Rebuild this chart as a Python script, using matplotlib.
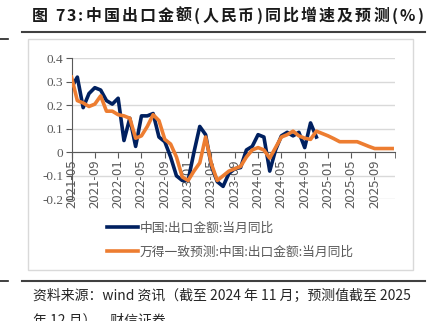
import numpy as np
import pandas as pd
import matplotlib
matplotlib.use('Agg')
import matplotlib.pyplot as plt
from matplotlib.patches import Rectangle
from matplotlib.lines import Line2D

plt.rcParams['font.family'] = ['Noto Sans CJK SC', 'DejaVu Sans']

# 月份 2021-05 ~ 2025-12
months = list(pd.date_range('2021-05-01', '2025-12-01', freq='MS').strftime('%Y-%m'))

# 实际值：2021-05 ~ 2024-11
actual = [0.275, 0.32, 0.19, 0.25, 0.275, 0.265, 0.22, 0.205,
          0.23, 0.05, 0.145, 0.025, 0.155, 0.155, 0.165, 0.065, 0.045, -0.02, -0.10, -0.12,
          -0.12, 0.0, 0.11, 0.075, -0.06, -0.125, -0.145, -0.09, -0.07, -0.065, 0.01, 0.025,
          0.075, 0.065, -0.08, 0.01, 0.07, 0.085, 0.07, 0.085, 0.02, 0.125, 0.065]

# 万得一致预测：2021-05 ~ 2025-12
forecast = [0.32, 0.22, 0.21, 0.195, 0.205, 0.24, 0.175, 0.175,
            0.16, 0.155, 0.145, 0.06, 0.07, 0.11, 0.16, 0.135, 0.055, 0.035, -0.02, -0.105,
            -0.12, -0.08, -0.045, 0.065, -0.05, -0.12, -0.10, -0.08, -0.07, -0.06, -0.02, 0.01,
            0.02, 0.01, -0.025, 0.02, 0.065, 0.075, 0.09, 0.07, 0.06, 0.055, 0.09, 0.08,
            0.07, 0.058, 0.045, 0.045, 0.045, 0.045, 0.035, 0.025, 0.016, 0.016, 0.016, 0.016]

yticks = [-0.2, -0.1, 0, 0.1, 0.2, 0.3, 0.4]
ytick_labels = ['-0.2', '-0.1', '0', '0.1', '0.2', '0.3', '0.4']

title = '图 73:中国出口金额(人民币)同比增速及预测(%)'
source1 = '资料来源：wind 资讯（截至 2024 年 11 月；预测值截至 2025'
source2 = '年 12 月），财信证券'

W, H = 434, 321
fig = plt.figure(figsize=(W / 100, H / 100), dpi=100)


def fx(px):
    return px / W


def fy(py):
    return 1 - py / H


# chart frame
fig.add_artist(Rectangle((fx(28), fy(270)), fx(413) - fx(28), fy(39) - fy(270),
                         transform=fig.transFigure, facecolor='white',
                         edgecolor='#D9D9D9', lw=1, zorder=0))

ax = fig.add_axes([fx(71.5), fy(199.3), fx(394.5) - fx(71.5), fy(58.3) - fy(199.3)])
ax.patch.set_alpha(0)
x = np.arange(len(months))
l1, = ax.plot(x[:len(actual)], actual, color='#002060', lw=2.6, zorder=3,
              solid_joinstyle='round')
l2, = ax.plot(x, forecast, color='#ED7D31', lw=2.6, zorder=4, solid_joinstyle='round')

ax.set_xlim(0, 55.4)
ax.set_ylim(-0.2, 0.4)
ax.tick_params(axis='both', which='both', length=4, color='#595959', pad=2,
               labelcolor='#595959', labelsize=9.5)
ax.tick_params(axis='x', labelrotation=90, pad=1)
ax.set_yticks(yticks)
ax.set_yticklabels(ytick_labels, family='Liberation Serif')
ax.set_xticks(x[::4])
ax.set_xticklabels(months[::4], family='Liberation Serif', rotation=90, va='top')
ax.set_xticks([55.4], minor=True)
ax.yaxis.grid(True, color='#D9D9D9', lw=1)
ax.set_axisbelow(True)
for s in ['top', 'right']:
    ax.spines[s].set_visible(False)
ax.spines['bottom'].set_position(('data', 0))
ax.spines['bottom'].set_color('#595959')
ax.spines['left'].set_color('#595959')

fig.legend([l1, l2], ['中国:出口金额:当月同比', '万得一致预测:中国:出口金额:当月同比'],
           loc='upper left', bbox_to_anchor=(fx(95), fy(210)), frameon=False,
           fontsize=9.2, handlelength=2.5, handletextpad=0.1, labelspacing=0.85,
           labelcolor='#595959')

# title with letter spacing
renderer = fig.canvas.get_renderer()
cx = fx(32)
for ch in title:
    t = fig.text(cx, fy(16), ch, fontsize=11.5, fontweight='bold', color='#1a1a1a',
                 ha='left', va='center')
    w = t.get_window_extent(renderer).width
    if ch == ' ':
        w = 3
    cx += (w + 2.1) / W

fig.add_artist(Line2D([fx(22), fx(425)], [fy(32), fy(32)], color='#404040', lw=1.5))
fig.add_artist(Line2D([fx(22), fx(425)], [fy(281), fy(281)], color='#404040', lw=1.5))
fig.add_artist(Line2D([0, fx(8)], [fy(39), fy(39)], color='#202020', lw=1.2))
fig.add_artist(Line2D([0, fx(8)], [fy(281), fy(281)], color='#202020', lw=1.2))

fig.text(fx(33), fy(296), source1, fontsize=10, color='#262626', ha='left', va='center')
fig.text(fx(33), fy(320), source2, fontsize=10, color='#262626', ha='left', va='center')

fig.savefig('out.png', dpi=100)
